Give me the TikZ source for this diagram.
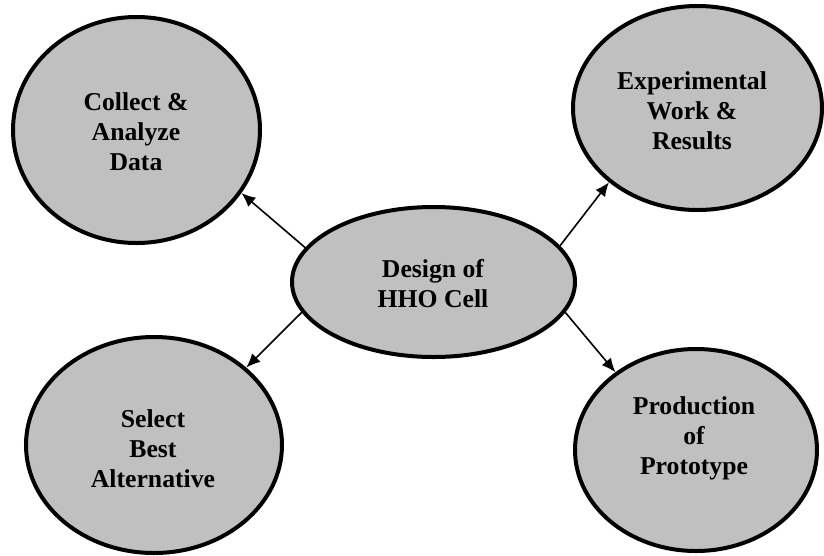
\documentclass[tikz,border=0pt]{standalone}
\usepackage{fontspec}
\setmainfont{Liberation Serif}
\usetikzlibrary{shapes.geometric,arrows.meta}
\definecolor{cellgray}{RGB}{192,192,192}
\tikzset{
  ell/.style={ellipse, draw=black, line width=4pt, fill=cellgray, inner sep=0pt},
  txt/.style={align=center, font=\fontsize{25.7pt}{30pt}\selectfont\bfseries, inner sep=0pt},
  conn/.style={line width=1.6pt, -{Latex[length=14pt,width=12pt]}}
}
\begin{document}
\begin{tikzpicture}[x=1pt,y=-1pt]
\useasboundingbox (0,0) rectangle (824,555);
\node[ell, minimum width=247pt, minimum height=226pt] (tl) at (136.5,130) {};
\node[ell, minimum width=249pt, minimum height=204pt] (tr) at (697.5,108) {};
\node[ell, minimum width=256pt, minimum height=216pt] (bl) at (154,445) {};
\node[ell, minimum width=242pt, minimum height=202pt] (br) at (696,450) {};
\node[ell, minimum width=283pt, minimum height=150pt] (c) at (433.5,282) {};
\node[txt] (tlt) at (136,132) {Collect \&\\Analyze\\Data};
\node[txt] (trt) at (692,111) {Experimental\\Work \&\\Results};
\node[txt] (blt) at (153,449) {Select\\Best\\Alternative};
\node[txt] (brt) at (694,438) {Production\\of\\Prototype};
\node[txt] (ct) at (433,284) {Design of\\HHO Cell};
\draw[conn] (c.165.4) -- (tl.329.2);
\draw[conn] (c.16.5) -- (tr.220.9);
\draw[conn] (c.193.3) -- (bl.40.1);
\draw[conn] (c.347.1) -- (br.136.1);
\end{tikzpicture}
\end{document}
